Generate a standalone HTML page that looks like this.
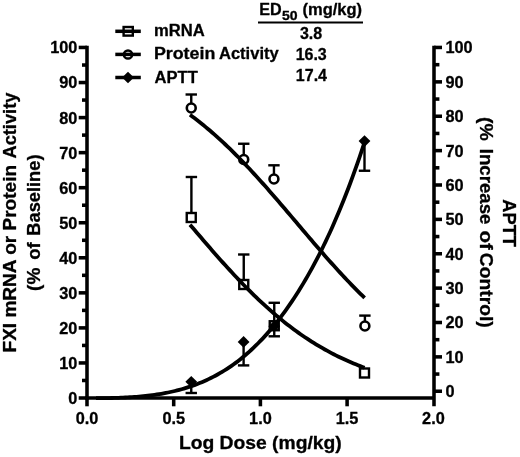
<!DOCTYPE html>
<html lang="en"><head><meta charset="utf-8"><title>ED50 dose response</title>
<style>html,body{margin:0;padding:0;background:#fff;}body{width:520px;height:457px;overflow:hidden;}svg{display:block;}text{font-family:"Liberation Sans",sans-serif;font-weight:bold;fill:#000;stroke:#000;stroke-width:0.3px;stroke-linejoin:round;}</style>
</head><body>
<svg width="520" height="457" viewBox="0 0 520 457">
<rect width="520" height="457" fill="#fff"/>
<g stroke="#000" stroke-width="3.55" fill="none" stroke-linecap="butt">
<line x1="87.0" y1="45.7" x2="87.0" y2="399.775"/>
<line x1="85.225" y1="398.0" x2="434" y2="398.0"/>
<line x1="434" y1="45.7" x2="434" y2="406.3"/>
<line x1="78.7" y1="398.00" x2="87.0" y2="398.00"/>
<line x1="82.0" y1="380.48" x2="87.0" y2="380.48"/>
<line x1="78.7" y1="362.95" x2="87.0" y2="362.95"/>
<line x1="82.0" y1="345.43" x2="87.0" y2="345.43"/>
<line x1="78.7" y1="327.90" x2="87.0" y2="327.90"/>
<line x1="82.0" y1="310.38" x2="87.0" y2="310.38"/>
<line x1="78.7" y1="292.85" x2="87.0" y2="292.85"/>
<line x1="82.0" y1="275.32" x2="87.0" y2="275.32"/>
<line x1="78.7" y1="257.80" x2="87.0" y2="257.80"/>
<line x1="82.0" y1="240.28" x2="87.0" y2="240.28"/>
<line x1="78.7" y1="222.75" x2="87.0" y2="222.75"/>
<line x1="82.0" y1="205.22" x2="87.0" y2="205.22"/>
<line x1="78.7" y1="187.70" x2="87.0" y2="187.70"/>
<line x1="82.0" y1="170.18" x2="87.0" y2="170.18"/>
<line x1="78.7" y1="152.65" x2="87.0" y2="152.65"/>
<line x1="82.0" y1="135.12" x2="87.0" y2="135.12"/>
<line x1="78.7" y1="117.60" x2="87.0" y2="117.60"/>
<line x1="82.0" y1="100.07" x2="87.0" y2="100.07"/>
<line x1="78.7" y1="82.55" x2="87.0" y2="82.55"/>
<line x1="82.0" y1="65.03" x2="87.0" y2="65.03"/>
<line x1="78.7" y1="47.45" x2="87.0" y2="47.45"/>
<line x1="434" y1="391.25" x2="442.0" y2="391.25"/>
<line x1="434" y1="374.06" x2="439.4" y2="374.06"/>
<line x1="434" y1="356.88" x2="442.0" y2="356.88"/>
<line x1="434" y1="339.69" x2="439.4" y2="339.69"/>
<line x1="434" y1="322.50" x2="442.0" y2="322.50"/>
<line x1="434" y1="305.31" x2="439.4" y2="305.31"/>
<line x1="434" y1="288.12" x2="442.0" y2="288.12"/>
<line x1="434" y1="270.94" x2="439.4" y2="270.94"/>
<line x1="434" y1="253.75" x2="442.0" y2="253.75"/>
<line x1="434" y1="236.56" x2="439.4" y2="236.56"/>
<line x1="434" y1="219.38" x2="442.0" y2="219.38"/>
<line x1="434" y1="202.19" x2="439.4" y2="202.19"/>
<line x1="434" y1="185.00" x2="442.0" y2="185.00"/>
<line x1="434" y1="167.81" x2="439.4" y2="167.81"/>
<line x1="434" y1="150.62" x2="442.0" y2="150.62"/>
<line x1="434" y1="133.44" x2="439.4" y2="133.44"/>
<line x1="434" y1="116.25" x2="442.0" y2="116.25"/>
<line x1="434" y1="99.06" x2="439.4" y2="99.06"/>
<line x1="434" y1="81.88" x2="442.0" y2="81.88"/>
<line x1="434" y1="64.69" x2="439.4" y2="64.69"/>
<line x1="434" y1="47.45" x2="442.0" y2="47.45"/>
<line x1="87.00" y1="398.0" x2="87.00" y2="406.3"/>
<line x1="173.70" y1="398.0" x2="173.70" y2="406.3"/>
<line x1="260.40" y1="398.0" x2="260.40" y2="406.3"/>
<line x1="347.10" y1="398.0" x2="347.10" y2="406.3"/>
</g>
<g font-size="16.3">
<text x="77.4" y="403.90" text-anchor="end">0</text>
<text x="77.4" y="368.85" text-anchor="end">10</text>
<text x="77.4" y="333.80" text-anchor="end">20</text>
<text x="77.4" y="298.75" text-anchor="end">30</text>
<text x="77.4" y="263.70" text-anchor="end">40</text>
<text x="77.4" y="228.65" text-anchor="end">50</text>
<text x="77.4" y="193.60" text-anchor="end">60</text>
<text x="77.4" y="158.55" text-anchor="end">70</text>
<text x="77.4" y="123.50" text-anchor="end">80</text>
<text x="77.4" y="88.45" text-anchor="end">90</text>
<text x="77.4" y="53.40" text-anchor="end">100</text>
<text x="445.4" y="397.15">0</text>
<text x="445.4" y="362.77">10</text>
<text x="445.4" y="328.40">20</text>
<text x="445.4" y="294.02">30</text>
<text x="445.4" y="259.65">40</text>
<text x="445.4" y="225.28">50</text>
<text x="445.4" y="190.90">60</text>
<text x="445.4" y="156.53">70</text>
<text x="445.4" y="122.15">80</text>
<text x="445.4" y="87.78">90</text>
<text x="445.4" y="53.40">100</text>
<text x="87.00" y="423.5" text-anchor="middle">0.0</text>
<text x="173.70" y="423.5" text-anchor="middle">0.5</text>
<text x="260.40" y="423.5" text-anchor="middle">1.0</text>
<text x="347.10" y="423.5" text-anchor="middle">1.5</text>
<text x="433.40" y="423.5" text-anchor="middle">2.0</text>
</g>
<g font-size="17.5">
<text x="178.9" y="448.9" textLength="162.8" lengthAdjust="spacingAndGlyphs">Log Dose (mg/kg)</text>
<text transform="translate(16.4 352.47) rotate(-90)" textLength="187.54" lengthAdjust="spacingAndGlyphs">FXI mRNA or Protein</text>
<text transform="translate(16.4 158.55) rotate(-90)" textLength="65.95" lengthAdjust="spacingAndGlyphs">Activity</text>
<text transform="translate(40.2 290.95) rotate(-90)" textLength="23.25" lengthAdjust="spacingAndGlyphs">(%</text>
<text transform="translate(40.2 259.82) rotate(-90)" textLength="17.49" lengthAdjust="spacingAndGlyphs">of</text>
<text transform="translate(40.2 235.72) rotate(-90)" textLength="81.23" lengthAdjust="spacingAndGlyphs">Baseline)</text>
<text transform="translate(503.0 199.35) rotate(90)" font-size="18.3" textLength="47.55" lengthAdjust="spacingAndGlyphs">APTT</text>
<text transform="translate(479.8 117.04) rotate(90)" font-size="19.1" textLength="23.68" lengthAdjust="spacingAndGlyphs">(%</text>
<text transform="translate(479.8 148.75) rotate(90)" font-size="19.1" textLength="75.68" lengthAdjust="spacingAndGlyphs">Increase</text>
<text transform="translate(479.8 230.60) rotate(90)" font-size="19.1" textLength="19.36" lengthAdjust="spacingAndGlyphs">of</text>
<text transform="translate(479.8 252.81) rotate(90)" font-size="19.1" textLength="74.85" lengthAdjust="spacingAndGlyphs">Control)</text>
</g>
<g font-size="16">
<text x="154.1" y="36.2" textLength="50.6" lengthAdjust="spacingAndGlyphs">mRNA</text>
<text x="153.91" y="59.3" textLength="61.40" lengthAdjust="spacingAndGlyphs">Protein</text>
<text x="218.99" y="59.3" textLength="59.70" lengthAdjust="spacingAndGlyphs">Activity</text>
<text x="154.6" y="82.6" textLength="43.2" lengthAdjust="spacingAndGlyphs">APTT</text>
<text x="259.2" y="15" textLength="22.4" lengthAdjust="spacingAndGlyphs">ED</text>
<text x="281.9" y="19.5" font-size="12" textLength="15.6" lengthAdjust="spacingAndGlyphs">50</text>
<text x="302.5" y="15" textLength="59.6" lengthAdjust="spacingAndGlyphs">(mg/kg)</text>
<text x="311" y="39" text-anchor="middle">3.8</text>
<text x="311.2" y="59.6" text-anchor="middle">16.3</text>
<text x="311.4" y="80.5" text-anchor="middle">17.4</text>
</g>
<line x1="258" y1="22.4" x2="363" y2="22.4" stroke="#000" stroke-width="2"/>
<line x1="115.3" y1="31.3" x2="140.8" y2="31.3" stroke="#000" stroke-width="3.5"/>
<line x1="115.3" y1="54.4" x2="140.8" y2="54.4" stroke="#000" stroke-width="3.5"/>
<line x1="115.3" y1="77.5" x2="140.8" y2="77.5" stroke="#000" stroke-width="3.5"/>
<rect x="123.60" y="27.00" width="9.2" height="8.6" fill="none" stroke="#000" stroke-width="2.4"/>
<circle cx="128.00" cy="54.50" r="4.1" fill="none" stroke="#000" stroke-width="2.5"/>
<path d="M122.10 77.50L128.00 71.70L133.90 77.50L128.00 83.30Z" fill="#000"/>
<path d="M190.00 114.78L192.21 116.42L194.42 118.08L196.63 119.77L198.84 121.50L201.05 123.25L203.26 125.04L205.47 126.85L207.68 128.69L209.89 130.57L212.10 132.47L214.31 134.40L216.52 136.36L218.73 138.36L220.94 140.37L223.15 142.42L225.36 144.50L227.57 146.60L229.79 148.73L232.00 150.89L234.21 153.08L236.42 155.29L238.63 157.52L240.84 159.78L243.05 162.07L245.26 164.38L247.47 166.71L249.68 169.07L251.89 171.44L254.10 173.84L256.31 176.26L258.52 178.69L260.73 181.15L262.94 183.62L265.15 186.11L267.36 188.61L269.57 191.13L271.78 193.66L273.99 196.21L276.20 198.76L278.41 201.33L280.62 203.90L282.83 206.49L285.04 209.08L287.25 211.68L289.46 214.28L291.67 216.89L293.88 219.49L296.09 222.10L298.30 224.71L300.51 227.32L302.72 229.93L304.94 232.54L307.15 235.14L309.36 237.73L311.57 240.32L313.78 242.90L315.99 245.47L318.20 248.03L320.41 250.58L322.62 253.12L324.83 255.65L327.04 258.16L329.25 260.65L331.46 263.13L333.67 265.60L335.88 268.04L338.09 270.47L340.30 272.87L342.51 275.26L344.72 277.63L346.93 279.97L349.14 282.29L351.35 284.59L353.56 286.86L355.77 289.11L357.98 291.33L360.19 293.53L362.40 295.70L364.61 297.85" fill="none" stroke="#000" stroke-width="3.8" stroke-linejoin="round"/>
<path d="M190.00 224.66L192.21 227.26L194.42 229.85L196.63 232.44L198.84 235.02L201.05 237.60L203.26 240.18L205.47 242.74L207.68 245.30L209.89 247.84L212.10 250.38L214.31 252.91L216.52 255.42L218.73 257.91L220.94 260.40L223.15 262.87L225.36 265.32L227.57 267.75L229.79 270.16L232.00 272.56L234.21 274.93L236.42 277.29L238.63 279.62L240.84 281.93L243.05 284.22L245.26 286.48L247.47 288.72L249.68 290.94L251.89 293.13L254.10 295.29L256.31 297.43L258.52 299.54L260.73 301.62L262.94 303.68L265.15 305.70L267.36 307.70L269.57 309.67L271.78 311.62L273.99 313.53L276.20 315.41L278.41 317.27L280.62 319.09L282.83 320.89L285.04 322.66L287.25 324.39L289.46 326.10L291.67 327.78L293.88 329.43L296.09 331.05L298.30 332.63L300.51 334.19L302.72 335.73L304.94 337.23L307.15 338.70L309.36 340.15L311.57 341.56L313.78 342.95L315.99 344.31L318.20 345.64L320.41 346.95L322.62 348.23L324.83 349.48L327.04 350.70L329.25 351.90L331.46 353.07L333.67 354.22L335.88 355.34L338.09 356.44L340.30 357.51L342.51 358.56L344.72 359.59L346.93 360.59L349.14 361.57L351.35 362.52L353.56 363.45L355.77 364.37L357.98 365.26L360.19 366.12L362.40 366.97L364.61 367.80" fill="none" stroke="#000" stroke-width="3.8" stroke-linejoin="round"/>
<path d="M96.00 398.10L98.25 398.10L100.50 398.10L102.76 398.10L105.01 398.10L107.26 398.07L109.51 398.03L111.76 397.99L114.02 397.93L116.27 397.87L118.52 397.79L120.77 397.71L123.03 397.62L125.28 397.51L127.53 397.39L129.78 397.26L132.03 397.12L134.29 396.96L136.54 396.79L138.79 396.61L141.04 396.40L143.29 396.19L145.55 395.95L147.80 395.70L150.05 395.43L152.30 395.13L154.55 394.82L156.81 394.49L159.06 394.14L161.31 393.76L163.56 393.36L165.82 392.93L168.07 392.49L170.32 392.01L172.57 391.51L174.82 390.98L177.08 390.42L179.33 389.84L181.58 389.22L183.83 388.57L186.08 387.89L188.34 387.18L190.59 386.43L192.84 385.65L195.09 384.84L197.34 383.98L199.60 383.09L201.85 382.16L204.10 381.19L206.35 380.18L208.61 379.13L210.86 378.04L213.11 376.90L215.36 375.71L217.61 374.48L219.87 373.20L222.12 371.88L224.37 370.50L226.62 369.08L228.87 367.60L231.13 366.07L233.38 364.49L235.63 362.85L237.88 361.16L240.13 359.41L242.39 357.60L244.64 355.73L246.89 353.81L249.14 351.82L251.39 349.77L253.65 347.66L255.90 345.49L258.15 343.25L260.40 340.95L262.66 338.58L264.91 336.14L267.16 333.64L269.41 331.07L271.66 328.43L273.92 325.72L276.17 322.94L278.42 320.08L280.67 317.16L282.92 314.16L285.18 311.08L287.43 307.93L289.68 304.70L291.93 301.39L294.18 298.00L296.44 294.53L298.69 290.97L300.94 287.33L303.19 283.61L305.45 279.80L307.70 275.90L309.95 271.92L312.20 267.84L314.45 263.66L316.71 259.40L318.96 255.03L321.21 250.57L323.46 246.00L325.71 241.34L327.97 236.56L330.22 231.68L332.47 226.69L334.72 221.59L336.97 216.37L339.23 211.04L341.48 205.58L343.73 200.01L345.98 194.31L348.24 188.48L350.49 182.52L352.74 176.43L354.99 170.20L357.24 163.83L359.50 157.32L361.75 150.66L364.00 143.86" fill="none" stroke="#000" stroke-width="3.8" stroke-linejoin="round"/>
<line x1="191.25" y1="103.60" x2="191.25" y2="94.50" stroke="#000" stroke-width="2.4"/><line x1="185.55" y1="94.50" x2="196.95" y2="94.50" stroke="#000" stroke-width="2.4"/>
<circle cx="191.25" cy="108.00" r="4.45" fill="none" stroke="#000" stroke-width="2.6"/>
<line x1="243.75" y1="155.10" x2="243.75" y2="143.75" stroke="#000" stroke-width="2.4"/><line x1="238.05" y1="143.75" x2="249.45" y2="143.75" stroke="#000" stroke-width="2.4"/>
<circle cx="243.75" cy="159.50" r="4.45" fill="none" stroke="#000" stroke-width="2.6"/>
<line x1="273.95" y1="174.60" x2="273.95" y2="165.30" stroke="#000" stroke-width="2.4"/><line x1="268.25" y1="165.30" x2="279.65" y2="165.30" stroke="#000" stroke-width="2.4"/>
<circle cx="273.95" cy="179.00" r="4.45" fill="none" stroke="#000" stroke-width="2.6"/>
<line x1="364.90" y1="321.60" x2="364.90" y2="315.60" stroke="#000" stroke-width="2.4"/><line x1="359.20" y1="315.60" x2="370.60" y2="315.60" stroke="#000" stroke-width="2.4"/>
<circle cx="364.90" cy="326.00" r="4.45" fill="none" stroke="#000" stroke-width="2.6"/>
<line x1="191.40" y1="213.50" x2="191.40" y2="177.00" stroke="#000" stroke-width="2.4"/><line x1="185.70" y1="177.00" x2="197.10" y2="177.00" stroke="#000" stroke-width="2.4"/>
<line x1="243.75" y1="280.50" x2="243.75" y2="254.50" stroke="#000" stroke-width="2.4"/><line x1="238.05" y1="254.50" x2="249.45" y2="254.50" stroke="#000" stroke-width="2.4"/>
<line x1="274.25" y1="302.80" x2="274.25" y2="336.30" stroke="#000" stroke-width="2.4"/><line x1="268.55" y1="302.80" x2="279.95" y2="302.80" stroke="#000" stroke-width="2.4"/><line x1="268.55" y1="336.30" x2="279.95" y2="336.30" stroke="#000" stroke-width="2.4"/>
<rect x="186.75" y="213.00" width="9.0" height="9.0" fill="none" stroke="#000" stroke-width="2.4"/>
<rect x="239.25" y="280.00" width="9.0" height="9.0" fill="none" stroke="#000" stroke-width="2.4"/>
<rect x="269.75" y="321.25" width="9.0" height="9.0" fill="none" stroke="#000" stroke-width="2.4"/>
<rect x="360.00" y="368.50" width="9.0" height="9.0" fill="none" stroke="#000" stroke-width="2.4"/>
<line x1="191.25" y1="381.25" x2="191.25" y2="393.00" stroke="#000" stroke-width="2.4"/><line x1="185.55" y1="393.00" x2="196.95" y2="393.00" stroke="#000" stroke-width="2.4"/>
<line x1="243.60" y1="342.00" x2="243.60" y2="365.40" stroke="#000" stroke-width="2.4"/><line x1="237.90" y1="365.40" x2="249.30" y2="365.40" stroke="#000" stroke-width="2.4"/>
<line x1="364.50" y1="141.00" x2="364.50" y2="170.75" stroke="#000" stroke-width="2.4"/><line x1="358.80" y1="170.75" x2="370.20" y2="170.75" stroke="#000" stroke-width="2.4"/>
<path d="M185.35 381.80L191.25 376.00L197.15 381.80L191.25 387.60Z" fill="#000"/>
<path d="M237.70 341.90L243.60 336.10L249.50 341.90L243.60 347.70Z" fill="#000"/>
<path d="M268.35 326.30L274.25 320.50L280.15 326.30L274.25 332.10Z" fill="#000"/>
<path d="M358.60 141.10L364.50 135.30L370.40 141.10L364.50 146.90Z" fill="#000"/>
</svg></body></html>
